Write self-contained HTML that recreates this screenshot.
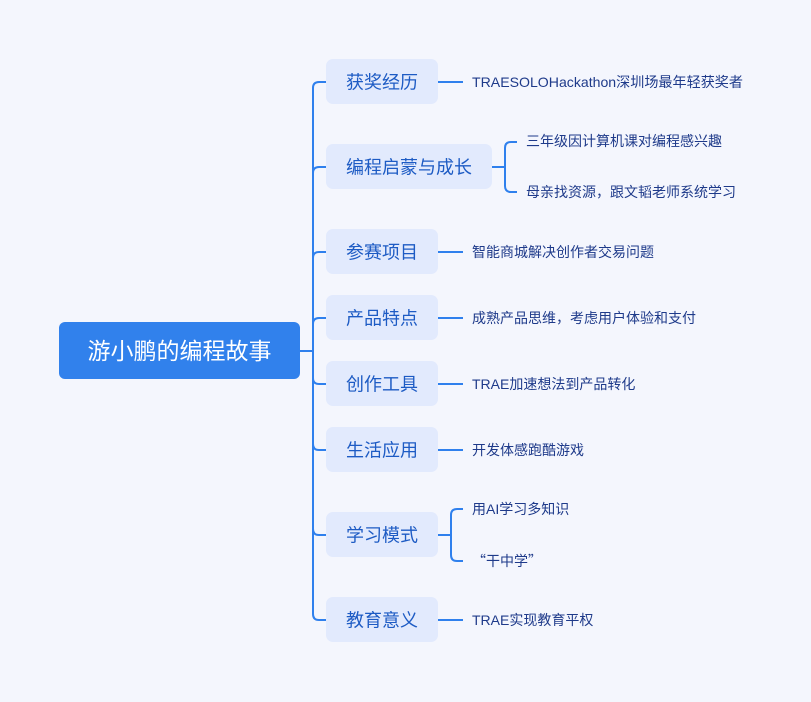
<!DOCTYPE html>
<html>
<head>
<meta charset="utf-8">
<style>
html,body{margin:0;padding:0;background:#F4F6FD;}
body{width:811px;height:702px;overflow:hidden;}
svg{display:block;}
.node{fill:#E2EAFD;}
.nt{font-family:"Liberation Sans","Noto Sans CJK SC",sans-serif;font-size:18px;fill:#1D5BC4;}
.lt{font-family:"Liberation Sans","Noto Sans CJK SC",sans-serif;font-size:14px;fill:#1E3A8A;}
.ltc{font-family:"Noto Sans CJK SC",sans-serif;font-size:14px;fill:#1E3A8A;}
.ln{fill:none;stroke:#2F80ED;stroke-width:2;}
</style>
</head>
<body>
<svg width="811" height="702" viewBox="0 0 811 702" xmlns="http://www.w3.org/2000/svg">
<rect x="0" y="0" width="811" height="702" fill="#F4F6FD"/>

<!-- trunk connectors -->
<path class="ln" d="M300 351 H313"/>
<path class="ln" d="M313 351 V88 Q313 82 319 82 H326"/>
<path class="ln" d="M313 351 V173 Q313 167 319 167 H326"/>
<path class="ln" d="M313 351 V258 Q313 252 319 252 H326"/>
<path class="ln" d="M313 351 V324 Q313 318 319 318 H326"/>
<path class="ln" d="M313 351 V378 Q313 384 319 384 H326"/>
<path class="ln" d="M313 351 V444 Q313 450 319 450 H326"/>
<path class="ln" d="M313 351 V529 Q313 535 319 535 H326"/>
<path class="ln" d="M313 351 V614 Q313 620 319 620 H326"/>

<!-- root -->
<rect x="59" y="322" width="241" height="57" rx="6" fill="#3181EC"/>
<text x="179.5" y="359" text-anchor="middle" font-family="Liberation Sans, Noto Sans CJK SC, sans-serif" font-size="23" fill="#FFFFFF">游小鹏的编程故事</text>

<!-- branch nodes -->
<rect class="node" x="326" y="59" width="112" height="45" rx="7"/>
<text class="nt" x="382" y="88.5" text-anchor="middle">获奖经历</text>

<rect class="node" x="326" y="144" width="166" height="45" rx="7"/>
<text class="nt" x="409" y="173.5" text-anchor="middle">编程启蒙与成长</text>

<rect class="node" x="326" y="229" width="112" height="45" rx="7"/>
<text class="nt" x="382" y="258.5" text-anchor="middle">参赛项目</text>

<rect class="node" x="326" y="295" width="112" height="45" rx="7"/>
<text class="nt" x="382" y="324.5" text-anchor="middle">产品特点</text>

<rect class="node" x="326" y="361" width="112" height="45" rx="7"/>
<text class="nt" x="382" y="390.5" text-anchor="middle">创作工具</text>

<rect class="node" x="326" y="427" width="112" height="45" rx="7"/>
<text class="nt" x="382" y="456.5" text-anchor="middle">生活应用</text>

<rect class="node" x="326" y="512" width="112" height="45" rx="7"/>
<text class="nt" x="382" y="541.5" text-anchor="middle">学习模式</text>

<rect class="node" x="326" y="597" width="112" height="45" rx="7"/>
<text class="nt" x="382" y="626.5" text-anchor="middle">教育意义</text>

<!-- leaf connectors -->
<path class="ln" d="M438 82 H463"/>
<path class="ln" d="M438 252 H463"/>
<path class="ln" d="M438 318 H463"/>
<path class="ln" d="M438 384 H463"/>
<path class="ln" d="M438 450 H463"/>
<path class="ln" d="M438 620 H463"/>

<path class="ln" d="M492 167 H505"/>
<path class="ln" d="M505 167 V148 Q505 142 511 142 H517"/>
<path class="ln" d="M505 167 V186 Q505 192 511 192 H517"/>

<path class="ln" d="M438 535 H451"/>
<path class="ln" d="M451 535 V515 Q451 509 457 509 H463"/>
<path class="ln" d="M451 535 V555 Q451 561 457 561 H463"/>

<!-- leaf texts -->
<text class="lt" x="472" y="87" textLength="271" lengthAdjust="spacingAndGlyphs">TRAESOLOHackathon深圳场最年轻获奖者</text>
<text class="lt" x="526" y="146">三年级因计算机课对编程感兴趣</text>
<text class="lt" x="526" y="197">母亲找资源，跟文韬老师系统学习</text>
<text class="lt" x="472" y="257">智能商城解决创作者交易问题</text>
<text class="lt" x="472" y="323">成熟产品思维，考虑用户体验和支付</text>
<text class="lt" x="472" y="389">TRAE加速想法到产品转化</text>
<text class="lt" x="472" y="455">开发体感跑酷游戏</text>
<text class="lt" x="472" y="514">用AI学习多知识</text>
<text class="ltc" x="472" y="566">“干中学”</text>
<text class="lt" x="472" y="625">TRAE实现教育平权</text>
</svg>
</body>
</html>
